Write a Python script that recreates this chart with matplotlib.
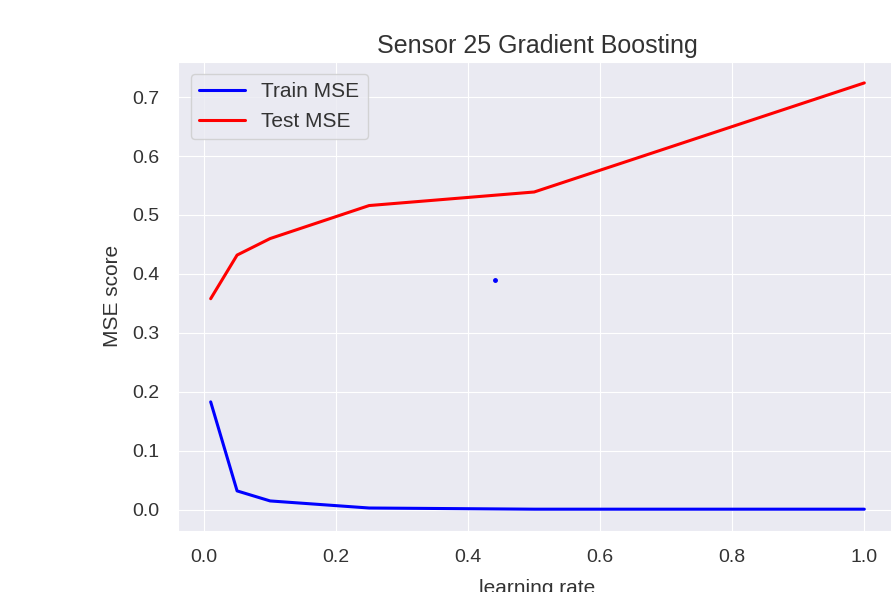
import matplotlib
matplotlib.use("Agg")
import matplotlib.pyplot as plt
import seaborn as sns

# learning rate sweep results
learning_rates = [0.01, 0.05, 0.1, 0.25, 0.5, 1.0]
train_mse = [0.183, 0.032, 0.015, 0.003, 0.001, 0.001]
test_mse = [0.358, 0.432, 0.460, 0.516, 0.539, 0.724]

# stray point
dot_x = [0.44]
dot_y = [0.39]

sns.set_style("darkgrid")
plt.rcParams["font.family"] = ["Liberation Sans", "DejaVu Sans"]
plt.rcParams["text.color"] = ".2"
plt.rcParams["axes.labelcolor"] = ".2"
plt.rcParams["xtick.color"] = ".2"
plt.rcParams["ytick.color"] = ".2"

fig = plt.figure(figsize=(8.91, 5.92), dpi=100)
ax = fig.add_axes([178 / 891, 1 - 530.5 / 592, (897 - 178) / 891, (530.5 - 61.6) / 592])

ax.plot(learning_rates, train_mse, color="blue", linewidth=2.2, label="Train MSE")
ax.plot(learning_rates, test_mse, color="red", linewidth=2.2, label="Test MSE")
ax.plot(dot_x, dot_y, "o", color="blue", markersize=2.5)

ax.set_title("Sensor 25 Gradient Boosting", fontsize=18)
ax.set_xlabel("learning rate", fontsize=15, labelpad=9)
ax.set_ylabel("MSE score", fontsize=15, labelpad=7)
ax.tick_params(axis="both", labelsize=14, pad=10)
ax.legend(loc="upper left", fontsize=15, handlelength=2.2, borderaxespad=0.6)

fig.savefig("out.png", dpi=100)
